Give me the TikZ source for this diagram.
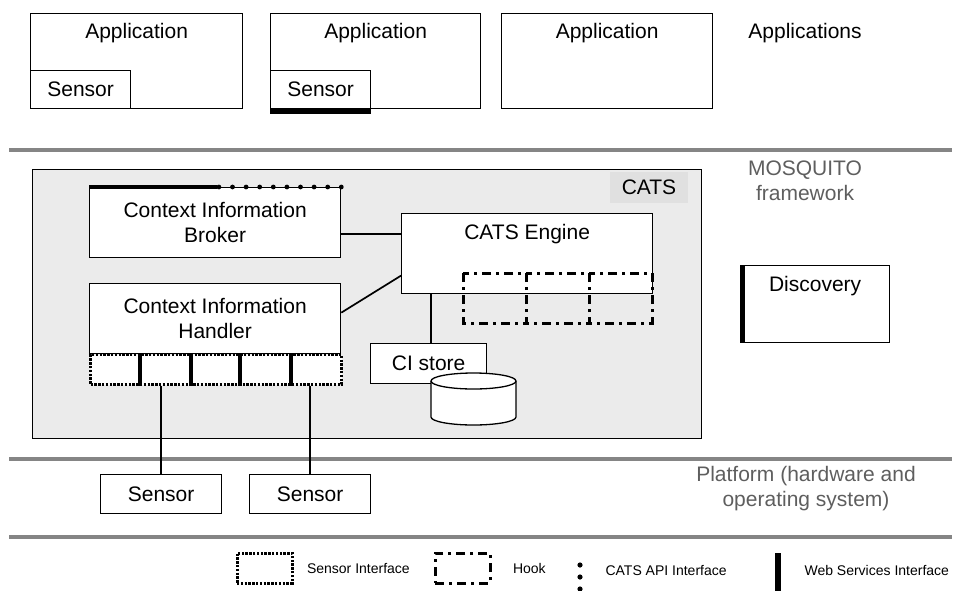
\documentclass[tikz,border=0pt]{standalone}
\usepackage{fontspec}
\setmainfont{Liberation Sans}
\usepackage{xcolor}
\usepackage{tikz}
\usetikzlibrary{positioning, calc}
\definecolor{catsFill}{HTML}{EBEBEB}
\definecolor{catsTag}{HTML}{E0E0E0}
\definecolor{layerLine}{HTML}{858585}
\definecolor{layerInk}{HTML}{5E5E5E}
\tikzset{
  box/.style={draw, line width=1.3pt, fill=white, inner sep=0pt, anchor=north west},
  lgdbox/.style={draw, inner sep=0pt, minimum width=55pt, minimum height=30pt},
  layer/.style={layerLine, line width=4pt},
  layertext/.style={text=layerInk, align=center},
  sifline/.style={line width=3pt, dash pattern=on 2.4pt off 1.4pt},
  hookline/.style={line width=3pt, dash pattern=on 9pt off 5pt on 3pt off 5pt},
  wsbar/.style={line width=5pt},
  link/.style={line width=1.7pt},
  lgd/.style={font=\fontsize{14}{17}\selectfont, anchor=west},
}

\begin{document}
\begin{tikzpicture}[x=1pt, y=-1pt, font=\fontsize{21}{25}\selectfont]
  \useasboundingbox (0,0) rectangle (953,590);

  % applications
  \node[box, minimum width=212pt, minimum height=95pt] (app1) at (30,13) {};
  \node[box, minimum width=210pt, minimum height=95pt] (app2) at (270,13) {};
  \node[box, minimum width=211pt, minimum height=95pt] (app3) at (501,13) {};
  \foreach \a in {app1, app2, app3} {
    \node (\a t) at ([yshift=-20pt]\a.north) {Application};
  }
  \node[box, minimum width=100pt, minimum height=38pt] (asen1) at (30,70) {Sensor};
  \node[box, minimum width=100pt, minimum height=38pt] (asen2) at (270,70) {Sensor};
  \draw[wsbar, line width=6pt] ([yshift=-1.5pt]asen2.south west) -- ([yshift=-1.5pt]asen2.south east);
  \node (apps) at (805,33) {Applications};

  % layers
  \draw[layer] (9,150) -- (952,150);
  \draw[layer] (9,459) -- (952,459);
  \draw[layer] (9,537) -- (952,537);
  \node[layertext] (mosq) at (805,181) {MOSQUITO\\framework};
  \node[layertext] (plat) at (806,488.5) {Platform (hardware and\\operating system)};

  % CATS
  \node[box, fill=catsFill, minimum width=669pt, minimum height=269pt] (cats) at (32,169) {};
  \node[fill=catsTag, inner sep=0pt, minimum width=78pt, minimum height=31pt] (catstag) at (649,187.5) {CATS};

  \node[box, minimum width=251pt, minimum height=70pt, align=center] (cib) at (89,187) {Context Information\\Broker};
  \draw[line width=4.5pt] (cib.north west) -- ([xshift=128pt]cib.north west);
  \foreach \i in {0,...,9} {
    \fill ([xshift=-\i*13.6pt]cib.north east) circle (2.4pt);
  }

  \node[box, minimum width=251pt, minimum height=80pt] (eng) at (401,213) {};
  \node (engt) at ([yshift=-21pt]eng.north) {CATS Engine};
  \foreach \k in {0,1,2} {
    \draw[hookline] ($(eng.north west)+(62+\k*63,60)$) rectangle ++(63,50);
  }

  \node[box, minimum width=251pt, minimum height=70pt, align=center] (cih) at (89,283) {Context Information\\Handler};
  \node[box, sifline, minimum width=251pt, minimum height=30pt] (sif) at (89,353) {};
  \foreach \x in {51,102,151,202} {
    \draw[line width=3.5pt] ([xshift=\x pt]sif.north west) -- ([xshift=\x pt]sif.south west);
  }

  \node[box, minimum width=116pt, minimum height=40pt] (store) at (370,343) {CI store};
  \draw[line width=1.3pt, fill=white] (431,381) -- (431,417) arc[start angle=180, end angle=360, x radius=42.5pt, y radius=8pt]
    -- (516,381) arc[start angle=0, end angle=180, x radius=42.5pt, y radius=8pt] -- cycle;
  \draw[line width=1.3pt] (516,381) arc[start angle=0, end angle=-180, x radius=42.5pt, y radius=8pt];

  \draw[link] ([yshift=-11pt]cib.east) -- ([yshift=-11pt]cib.east -| eng.west);
  \draw[link] ([yshift=6pt]cih.east) -- ([yshift=-22pt]eng.west);
  \draw[link] ([xshift=2pt]store.north) -- ([xshift=2pt]store.north |- eng.south);

  % discovery
  \node[box, minimum width=149pt, minimum height=77pt] (disc) at (740,265) {};
  \node (disct) at ([yshift=-21pt]disc.north) {Discovery};
  \draw[wsbar] ([xshift=2pt]disc.north west) -- ([xshift=2pt]disc.south west);

  % platform sensors
  \node[box, minimum width=121pt, minimum height=39pt] (sen1) at (100,474) {Sensor};
  \node[box, minimum width=121pt, minimum height=39pt] (sen2) at (249,474) {Sensor};
  \draw[link] (sen1.north) -- (sen1.north |- sif.south);
  \draw[link] (sen2.north) -- (sen2.north |- sif.south);

  % legend
  \node[lgdbox, sifline] (lsif) at (264.5,568) {};
  \node[lgd, right=10pt of lsif] (lsift) {Sensor Interface};
  \node[lgdbox, hookline] (lhook) at (462.5,568) {};
  \node[lgd, right=18pt of lhook] (lhookt) {Hook};
  \foreach \y in {565,577,589} {
    \fill (580,\y) circle (2.6pt);
  }
  \node[lgd] (lapit) at (602,570) {CATS API Interface};
  \draw[line width=6pt] (778,553) -- (778,592);
  \node[lgd] (lwst) at (801,570) {Web Services Interface};
\end{tikzpicture}
\end{document}
